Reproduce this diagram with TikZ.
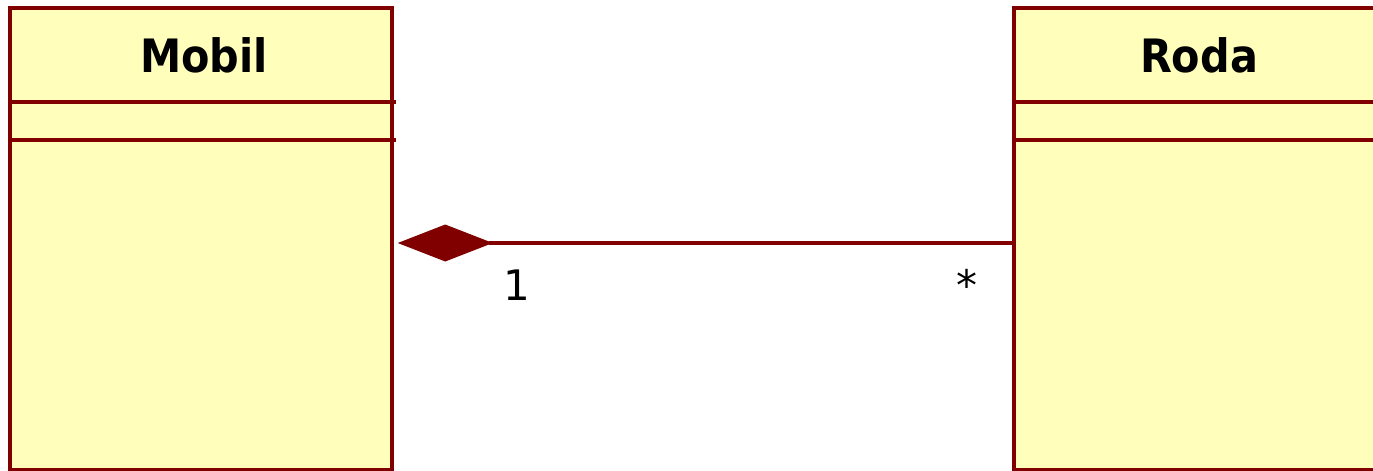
\documentclass[tikz,border=0pt]{standalone}
\usepackage{fontspec}
\setmainfont{DejaVu Sans}
\newfontfamily\condbold[FakeStretch=0.9]{DejaVu Sans Bold}
\usetikzlibrary{arrows.meta}
\definecolor{umlred}{RGB}{128,0,0}
\definecolor{umlfill}{RGB}{255,255,187}
\tikzset{
  classbox/.style={draw=umlred, fill=umlfill, line width=3.5pt, rectangle, inner sep=0pt},
  divider/.style={draw=umlred, line width=3.5pt},
  classname/.style={font=\condbold\fontsize{46}{46}\selectfont, anchor=base},
  mult/.style={font=\fontsize{42}{42}\selectfont, anchor=base},
  comp/.style={draw=umlred, line width=3.5pt, -{Diamond[length=95pt,width=37pt,line width=0pt,fill=umlred]}}
}
\begin{document}
\begin{tikzpicture}[x=1pt,y=-1pt]
\useasboundingbox (0,0) rectangle (1373,471);
\clip (0,0) rectangle (1373,471);
\node[classbox, minimum width=382pt, minimum height=462pt] (mobil) at (201,239) {};
\node[classbox, minimum width=370pt, minimum height=462pt] (roda) at (1199,239) {};
\node[classname] (mobilname) at (204,72) {Mobil};
\node[classname] (rodaname) at (1199,72) {Roda};
\coordinate (m1a) at (10,102); \coordinate (m1b) at (396,102);
\coordinate (m2a) at (10,140); \coordinate (m2b) at (396,140);
\coordinate (r1a) at (1014,102); \coordinate (r1b) at (1400,102);
\coordinate (r2a) at (1014,140); \coordinate (r2b) at (1400,140);
\draw[divider] (m1a) -- (m1b);
\draw[divider] (m2a) -- (m2b);
\draw[divider] (r1a) -- (r1b);
\draw[divider] (r2a) -- (r2b);
\path (mobil.east) ++(4,4) coordinate (mend);
\path (roda.west) ++(0,4) coordinate (rend);
\draw[comp] (rend) -- (mend);
\node[mult] (one) at (517,300) {1};
\node[mult] (many) at (967,300) {*};
\end{tikzpicture}
\end{document}
